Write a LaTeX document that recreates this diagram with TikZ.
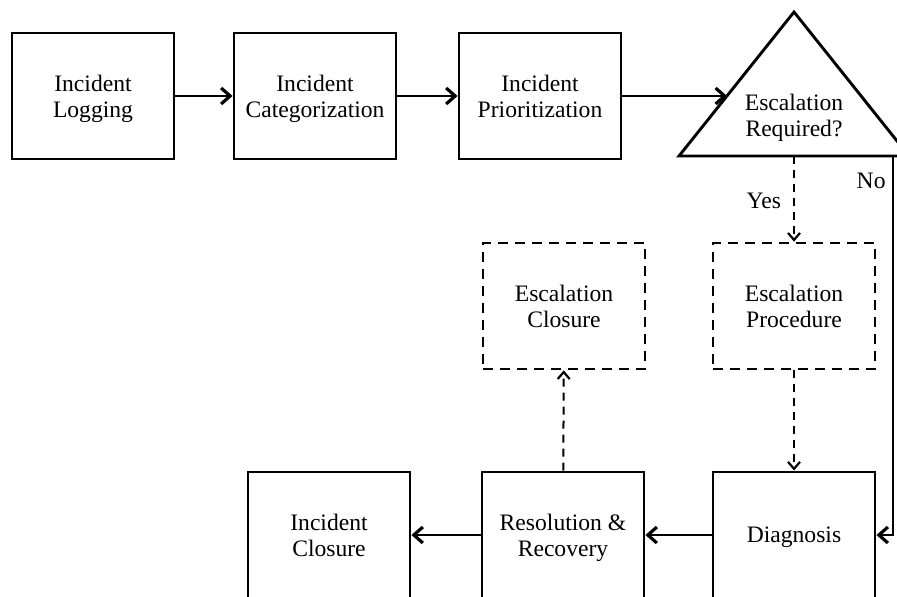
\documentclass[tikz,border=0pt]{standalone}
\usepackage{fontspec}
\setmainfont{Liberation Serif}
\usetikzlibrary{arrows.meta}
\begin{document}
\begin{tikzpicture}[x=0.5pt,y=-0.5pt,
  txt/.style={align=center, font=\fontsize{11.8}{13}\selectfont, inner sep=0pt},
  box/.style={txt, draw, line width=1.45pt, minimum width=81pt, minimum height=63pt, text depth=0pt},
  dbox/.style={box, line width=1.35pt, dash pattern=on 5pt off 3.5pt},
  arr/.style={line width=1.45pt, -{Straight Barb[length=4.5pt,width=8pt,line width=1.6pt]}},
  darr/.style={line width=1pt, dash pattern=on 4pt off 3pt, -{Straight Barb[length=3.5pt,width=6pt,line width=1.1pt]}}]
\useasboundingbox (0,0) rectangle (897,597);

% top row
\node[box] (log) at (93,96) {Incident\\Logging};
\node[box] (cat) at (315,96) {Incident\\Categorization};
\node[box] (pri) at (540,96) {Incident\\Prioritization};

% decision triangle
\draw[line width=1.45pt] (794,12) -- (679,156) -- (909,156) -- cycle;
\coordinate (decL) at (727,96);
\coordinate (decB) at (794,156);
\coordinate (decR) at (893,156);
\node[txt] (dec) at (794,118) {Escalation\\Required?};

% escalation branch
\node[dbox] (ep) at (794,306) {Escalation\\Procedure};
\node[dbox] (ec) at (564,306) {Escalation\\Closure};

% bottom row
\node[box] (dia) at (794,535) {Diagnosis};
\node[box] (res) at (563,535) {Resolution \&\\Recovery};
\node[box] (clo) at (329,535) {Incident\\Closure};

% connectors
\draw[arr] (log) -- (cat);
\draw[arr] (cat) -- (pri);
\draw[arr] (pri.east) -- (decL);
\draw[darr] (decB) -- node[txt, midway, left=6pt, yshift=-1pt] {Yes} (ep.north);
\draw[arr] (decR) -- node[txt, pos=0.065, left=3pt] {No} (decR |- dia.east) -- (dia.east);
\draw[darr] (ep) -- (dia);
\draw[arr] (dia) -- (res);
\draw[arr] (res) -- (clo);
\draw[darr] (res) -- (ec);
\end{tikzpicture}
\end{document}
